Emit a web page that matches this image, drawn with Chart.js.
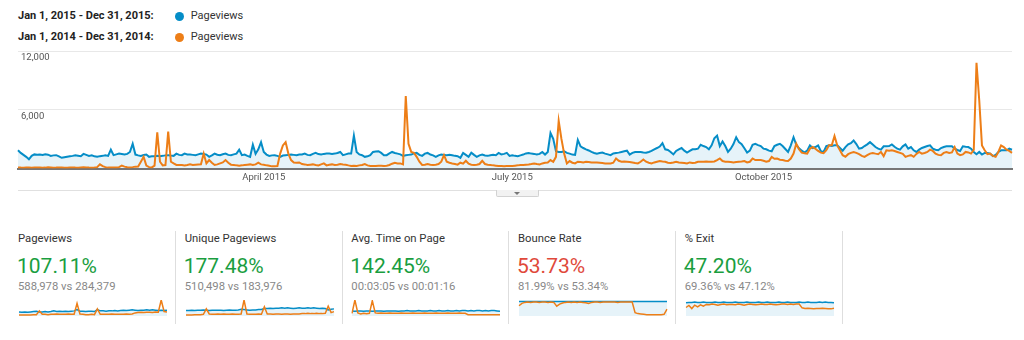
<!DOCTYPE html>
<html>
<head>
<meta charset="utf-8">
<script src="https://cdn.jsdelivr.net/npm/chart.js@4/dist/chart.umd.min.js"></script>
<style>
  body { margin: 0; width: 1024px; height: 340px; background: #fff; position: relative; overflow: hidden;
         font-family: Roboto, "Noto Sans", sans-serif; }
  .abs { position: absolute; white-space: nowrap; }
  .range { font-size: 11px; font-weight: 700; color: #222; line-height: 14px; }
  .metric { font-size: 11px; color: #333; line-height: 14px; }
  .dot { width: 9px; height: 9px; border-radius: 50%; }
  .title { font-size: 11.3px; color: #333; line-height: 14px; }
  .big { font-size: 21px; line-height: 24px; }
  .cmp { font-size: 11.3px; color: #888; line-height: 14px; }
  .sep { width: 1px; height: 93px; top: 231px; background: #dedede; }
  .up { color: #1a9e3f; }
  .down { color: #e0493a; }
</style>
</head>
<body>

<div class="abs range" style="left:18px; top:8.5px;">Jan 1, 2015 - Dec 31, 2015:</div>
<div class="abs dot" style="left:174.5px; top:11.5px; background:#058dc7;"></div>
<div class="abs metric" style="left:190.7px; top:8.5px;">Pageviews</div>
<div class="abs range" style="left:18px; top:30.2px;">Jan 1, 2014 - Dec 31, 2014:</div>
<div class="abs dot" style="left:174.5px; top:33.2px; background:#ed7e17;"></div>
<div class="abs metric" style="left:190.7px; top:30.2px;">Pageviews</div>

<canvas id="trend" class="abs" width="1024" height="152" style="left:0; top:40px;"></canvas>

<!-- strip under the axis with the collapse tab -->
<div class="abs" style="left:18px; top:190px; width:994px; height:1px; background:#e0e0e0;"></div>
<div class="abs" style="left:496px; top:190px; width:41px; height:6px; background:#f2f2f2; border:1px solid #d2d2d2; border-top:none; border-radius:0 0 2px 2px;"></div>
<div class="abs" style="left:514px; top:192px; width:0; height:0; border-left:3px solid transparent; border-right:3px solid transparent; border-top:3px solid #777;"></div>

<!-- scorecards -->
<div class="abs title" style="left:18px; top:231.8px;">Pageviews</div>
<div class="abs big up" style="left:17px; top:253.8px;">107.11%</div>
<div class="abs cmp" style="left:18px; top:280.1px;">588,978 vs 284,379</div>
<canvas id="spPageviews" class="abs" width="150" height="20" style="left:18px; top:298px;"></canvas>
<div class="abs sep" style="left:175px;"></div>

<div class="abs title" style="left:184.7px; top:231.8px;">Unique Pageviews</div>
<div class="abs big up" style="left:183.7px; top:253.8px;">177.48%</div>
<div class="abs cmp" style="left:184.7px; top:280.1px;">510,498 vs 183,976</div>
<canvas id="spUnique" class="abs" width="150" height="20" style="left:184.7px; top:298px;"></canvas>
<div class="abs sep" style="left:341.7px;"></div>

<div class="abs title" style="left:351.3px; top:231.8px;">Avg. Time on Page</div>
<div class="abs big up" style="left:350.3px; top:253.8px;">142.45%</div>
<div class="abs cmp" style="left:351.3px; top:280.1px;">00:03:05 vs 00:01:16</div>
<canvas id="spTime" class="abs" width="150" height="20" style="left:351.3px; top:298px;"></canvas>
<div class="abs sep" style="left:508.3px;"></div>

<div class="abs title" style="left:518px; top:231.8px;">Bounce Rate</div>
<div class="abs big down" style="left:517px; top:253.8px;">53.73%</div>
<div class="abs cmp" style="left:518px; top:280.1px;">81.99% vs 53.34%</div>
<canvas id="spBounce" class="abs" width="150" height="20" style="left:518px; top:298px;"></canvas>
<div class="abs sep" style="left:675px;"></div>

<div class="abs title" style="left:684.7px; top:231.8px;">% Exit</div>
<div class="abs big up" style="left:683.7px; top:253.8px;">47.20%</div>
<div class="abs cmp" style="left:684.7px; top:280.1px;">69.36% vs 47.12%</div>
<canvas id="spExit" class="abs" width="150" height="20" style="left:684.7px; top:298px;"></canvas>
<div class="abs sep" style="left:841.7px;"></div>

<script>
const BLUE = '#058dc7';
const BLUE_FILL = 'rgba(5,141,199,0.1)';
const ORANGE = '#ed7e17';

// daily pageviews, one line per month
const pageviews2015 = [
  1870,1600,1400,1200,950,1300,1450,1420,1430,1380,1470,1420,1300,1350,1370,1250,1100,1150,1200,1250,1300,1370,1320,1270,1500,1400,1300,1350,1250,1200,1270,
  1300,1350,1300,1930,1370,1450,1530,1480,1430,1500,1700,2530,1430,1350,1300,1380,1430,1200,1250,1270,1300,1270,1300,1350,1370,1330,1300,1530,
  1400,1370,1530,1450,1430,1400,1370,1450,1530,1480,1430,1200,1350,1530,1420,1370,1470,1530,1400,1370,1450,1530,1930,1370,1430,1300,1200,2430,1500,1970,2700,
  1700,1430,1300,1350,1370,1300,1200,1330,1370,1400,1430,1400,1370,1430,1450,1530,1400,1370,1500,1600,1480,1430,1500,1530,1530,1500,1530,1600,1700,1370,
  1450,1530,1530,3370,1700,1450,1370,1200,1250,1370,1700,1750,1770,1600,1370,1370,1550,1700,1600,1530,1450,1300,1370,1400,1430,1550,1600,1400,1300,1530,1600,
  1430,1350,1200,1350,1430,1400,1370,1400,1370,1300,1270,1100,1600,1400,1200,1630,1400,1200,1350,1430,1330,1300,1370,1400,1370,1600,1450,1500,1600,1300,
  1370,1300,1270,1350,1430,1550,1600,1530,1500,1430,1500,1700,1430,1700,3630,3030,1770,1700,1700,1770,1600,1530,1430,1400,2930,2270,2100,1970,1850,1700,1600,
  1530,1600,1630,1530,1450,1370,1550,1600,1630,1700,1770,1830,1430,1600,1700,1700,1700,1650,1630,1700,1800,1970,2100,2250,2600,1970,1900,1700,1450,1800,1970,
  2100,1830,1630,1800,1970,1970,2030,2430,2300,2200,1970,2370,3100,3370,2300,2770,2300,1700,2030,2500,3200,2700,2500,2070,1630,1830,2430,2530,2400,2300,
  2030,1970,1830,1770,2300,2430,2530,2300,2000,1700,2370,3200,2430,2070,1830,1630,1830,2370,2100,2200,2370,1770,1700,2300,2370,2300,2370,2370,2100,1830,2200,
  2470,2600,2870,2500,2030,2100,2300,2470,2700,2450,2200,2030,1930,2270,2270,2300,2470,2230,2030,1930,2270,2470,2030,2200,1870,1700,1930,2100,2200,2300,
  2370,2030,1930,1870,2100,2200,2270,2270,2270,2030,1900,1800,2270,2230,2200,2030,1700,1470,1700,1430,1600,1600,1530,1270,1400,1700,1870,1870,1870,2030,1930
];
const pageviews2014 = [
  120,100,90,110,100,80,100,120,110,90,100,130,110,90,100,120,100,80,90,110,120,100,90,110,130,120,100,90,110,150,430,
  250,150,100,110,100,120,150,300,200,130,120,150,200,220,700,1200,300,150,120,300,3700,700,330,350,3770,700,530,370,
  370,370,330,370,430,370,400,430,450,1530,530,870,600,370,430,530,630,870,600,400,370,330,300,330,370,400,430,370,430,600,430,
  400,330,300,230,250,270,1530,2370,2700,1530,870,630,600,630,470,430,370,400,430,370,330,430,530,330,400,430,370,400,470,430,
  400,330,270,300,270,330,370,470,330,270,270,270,300,300,270,300,370,500,600,530,530,430,7400,2530,1700,1600,1200,700,370,400,470,
  400,370,400,470,700,1370,700,600,530,470,400,600,500,800,500,400,370,400,470,800,470,400,370,330,300,270,270,230,270,270,
  270,300,330,370,370,400,430,470,530,470,430,530,600,630,870,700,1200,4870,3030,1530,530,770,600,530,700,670,630,700,670,630,630,
  630,600,570,530,530,530,600,1030,800,700,730,700,670,630,570,530,700,930,700,600,530,630,700,770,730,700,600,570,630,700,630,
  600,570,530,630,570,600,700,700,700,730,700,700,730,870,1030,770,700,700,670,630,670,700,730,770,630,700,1030,870,870,870,
  800,700,770,1200,1000,1030,900,870,800,770,1030,1530,2530,1970,1630,1570,1530,2030,2200,2030,1800,1630,1570,1870,2370,2370,3330,2370,1870,1370,1200,
  1470,1600,1700,1600,1470,1300,1200,1370,1530,1600,1530,1470,1700,1270,1870,1830,1870,1800,1700,1600,1500,1200,1300,1370,1200,1500,1700,1530,1600,1700,
  1930,1800,1530,1400,1370,1600,1700,1600,1650,2200,1530,1370,1450,1700,1650,1530,1900,10800,7000,2370,1870,1470,1530,1300,1200,1700,2370,2200,1930,1800,1600
];

const tickDays = ['2015-04-01', '2015-07-01', '2015-10-01'];
const tickLabels = ['April 2015', 'July 2015', 'October 2015'];

// weekly values for the scorecard sparklines
const sparkPageviews2015 = [1380,1270,1380,1270,1380,1500,1610,1380,1380,1500,1380,1500,1730,1500,1610,1500,1610,1500,1610,1730,2190,1610,1610,1500,1610,1610,1500,2190,1730,1730,1610,1730,1730,1840,1730,1840,1960,1840,1960,2070,1960,1840,1960,1960,2070,1960,2070,1960,1840,1960,1840,1960];
const sparkPageviews2014 = [345,345,345,345,345,460,460,1730,575,575,460,575,575,690,575,575,575,690,575,575,4260,690,575,460,460,575,460,2420,575,575,575,575,690,575,575,575,575,690,575,690,1040,1150,1270,1150,1270,1270,1150,1380,1270,5400,1500,1380];
const sparkUnique2015 = [1120,1120,1190,1120,1190,1190,1260,1190,1120,1190,1190,1190,1190,1120,1190,1260,1190,1190,1260,1400,1330,1260,1190,1260,1260,1330,1330,1540,1540,1610,1540,1610,1610,1680,1610,1680,1610,1540,1610,1680,1610,1610,1680,1610,1680,1610,1540,1610,1540,1260,1400,1470];
const sparkUnique2014 = [210,210,210,280,280,280,350,1470,420,350,350,420,350,420,350,350,420,350,350,420,3290,420,350,350,350,420,350,1890,420,420,350,420,420,350,420,420,350,420,420,420,490,490,560,490,490,560,490,490,560,2030,700,910];
const sparkTime2015 = [185,172,185,185,172,185,185,172,185,185,185,172,185,185,185,185,172,185,185,197,185,185,185,197,185,185,185,197,185,185,197,185,185,197,185,185,197,185,197,197,185,197,185,197,197,185,197,185,197,197,185,172];
const sparkTime2014 = [98,578,111,74,98,86,98,554,111,98,111,98,98,111,98,98,98,111,98,98,98,111,98,98,98,111,98,98,98,111,98,98,98,111,98,98,98,111,98,98,49,49,49,49,49,49,49,49,49,49,49,49];
const sparkBounce2015 = [82,82,81,82,82,82,81,82,82,82,82,81,82,82,82,82,82,81,82,82,82,82,82,81,82,82,82,82,82,82,81,82,82,82,82,82,82,82,82,81,82,82,82,82,82,82,82,81,82,82,82,82];
const sparkBounce2014 = [57.5,70.9,76.6,78.5,76.6,78.5,78.5,76.6,78.5,78.5,76.6,78.5,76.6,55.5,67.0,72.8,76.6,78.5,76.6,78.5,76.6,78.5,76.6,74.7,70.9,76.6,78.5,78.5,76.6,78.5,78.5,78.5,78.5,78.5,76.6,78.5,78.5,78.5,78.5,78.5,19.2,13.4,11.5,9.6,7.7,7.7,7.7,7.7,7.7,7.7,9.6,38.3];
const sparkExit2015 = [66.3,68.0,68.0,69.7,68.0,68.0,69.7,68.0,68.0,68.0,69.7,68.0,68.0,69.7,68.0,68.0,68.0,69.7,68.0,68.0,68.0,69.7,68.0,68.0,68.0,69.7,68.0,68.0,69.7,68.0,68.0,68.0,69.7,68.0,68.0,69.7,68.0,68.0,68.0,69.7,68.0,68.0,69.7,68.0,68.0,68.0,69.7,68.0,69.7,68.0,68.0,66.3];
const sparkExit2014 = [42.5,52.7,37.4,54.4,45.9,56.1,49.3,57.8,56.1,59.5,57.8,54.4,57.8,59.5,56.1,57.8,57.8,56.1,59.5,57.8,54.4,57.8,59.5,57.8,56.1,57.8,59.5,57.8,57.8,59.5,57.8,56.1,57.8,59.5,59.5,57.8,59.5,57.8,59.5,59.5,40.8,37.4,39.1,37.4,35.7,37.4,37.4,39.1,37.4,35.7,35.7,39.1];

// one category per day of 2015
const days = [];
for (let d = new Date(Date.UTC(2015, 0, 1)); d.getUTCFullYear() === 2015; d.setUTCDate(d.getUTCDate() + 1)) {
  days.push(d.toISOString().slice(0, 10));
}

const axisFont = { family: 'Roboto', size: 9.5 };

new Chart(document.getElementById('trend'), {
  type: 'line',
  data: {
    labels: days,
    datasets: [
      { label: 'Pageviews 2015', data: pageviews2015, borderColor: BLUE, backgroundColor: BLUE_FILL,
        fill: 'origin', borderWidth: 2, pointRadius: 0, tension: 0, order: 1 },
      { label: 'Pageviews 2014', data: pageviews2014, borderColor: ORANGE, fill: false,
        borderWidth: 2, pointRadius: 0, tension: 0, order: 0 }
    ]
  },
  options: {
    responsive: false,
    animation: false,
    layout: { padding: { left: 18, right: 12, top: 11, bottom: 6 } },
    plugins: { legend: { display: false }, tooltip: { enabled: false } },
    scales: {
      x: {
        grid: { display: false, drawTicks: false },
        border: { display: true, color: '#777', width: 2 },
        ticks: {
          autoSkip: false, maxRotation: 0, padding: 3, color: '#555', font: axisFont,
          callback: (v, i) => {
            const k = tickDays.indexOf(days[i]);
            return k < 0 ? null : tickLabels[k];
          }
        },
        afterFit: s => { s.paddingLeft = 0; s.paddingRight = 0; }
      },
      y: {
        min: 0, max: 12000,
        border: { display: false },
        grid: { drawTicks: false, color: c => c.tick.value === 0 ? 'rgba(0,0,0,0)' : '#e8e8e8' },
        ticks: {
          stepSize: 6000, mirror: true, padding: 3, labelOffset: 7, color: '#555', font: axisFont,
          callback: v => v === 0 ? '' : v.toLocaleString('en-US')
        },
        afterFit: s => { s.width = 0; s.paddingTop = 0; s.paddingBottom = 0; }
      }
    }
  }
});

function sparkline(id, current, previous, max) {
  new Chart(document.getElementById(id), {
    type: 'line',
    data: {
      labels: current.map((_, i) => i),
      datasets: [
        { data: current, borderColor: BLUE, backgroundColor: BLUE_FILL, fill: 'origin',
          borderWidth: 1.5, pointRadius: 0, tension: 0, order: 1 },
        { data: previous, borderColor: ORANGE, fill: false,
          borderWidth: 1.5, pointRadius: 0, tension: 0, order: 0 }
      ]
    },
    options: {
      responsive: false,
      animation: false,
      layout: { padding: { left: 1, right: 1, top: 2, bottom: 2 } },
      plugins: { legend: { display: false }, tooltip: { enabled: false } },
      scales: { x: { display: false }, y: { display: false, min: 0, max: max } }
    }
  });
}

sparkline('spPageviews', sparkPageviews2015, sparkPageviews2014, 5400);
sparkline('spUnique', sparkUnique2015, sparkUnique2014, 3300);
sparkline('spTime', sparkTime2015, sparkTime2014, 580);
sparkline('spBounce', sparkBounce2015, sparkBounce2014, 90);
sparkline('spExit', sparkExit2015, sparkExit2014, 80);
</script>
</body>
</html>
